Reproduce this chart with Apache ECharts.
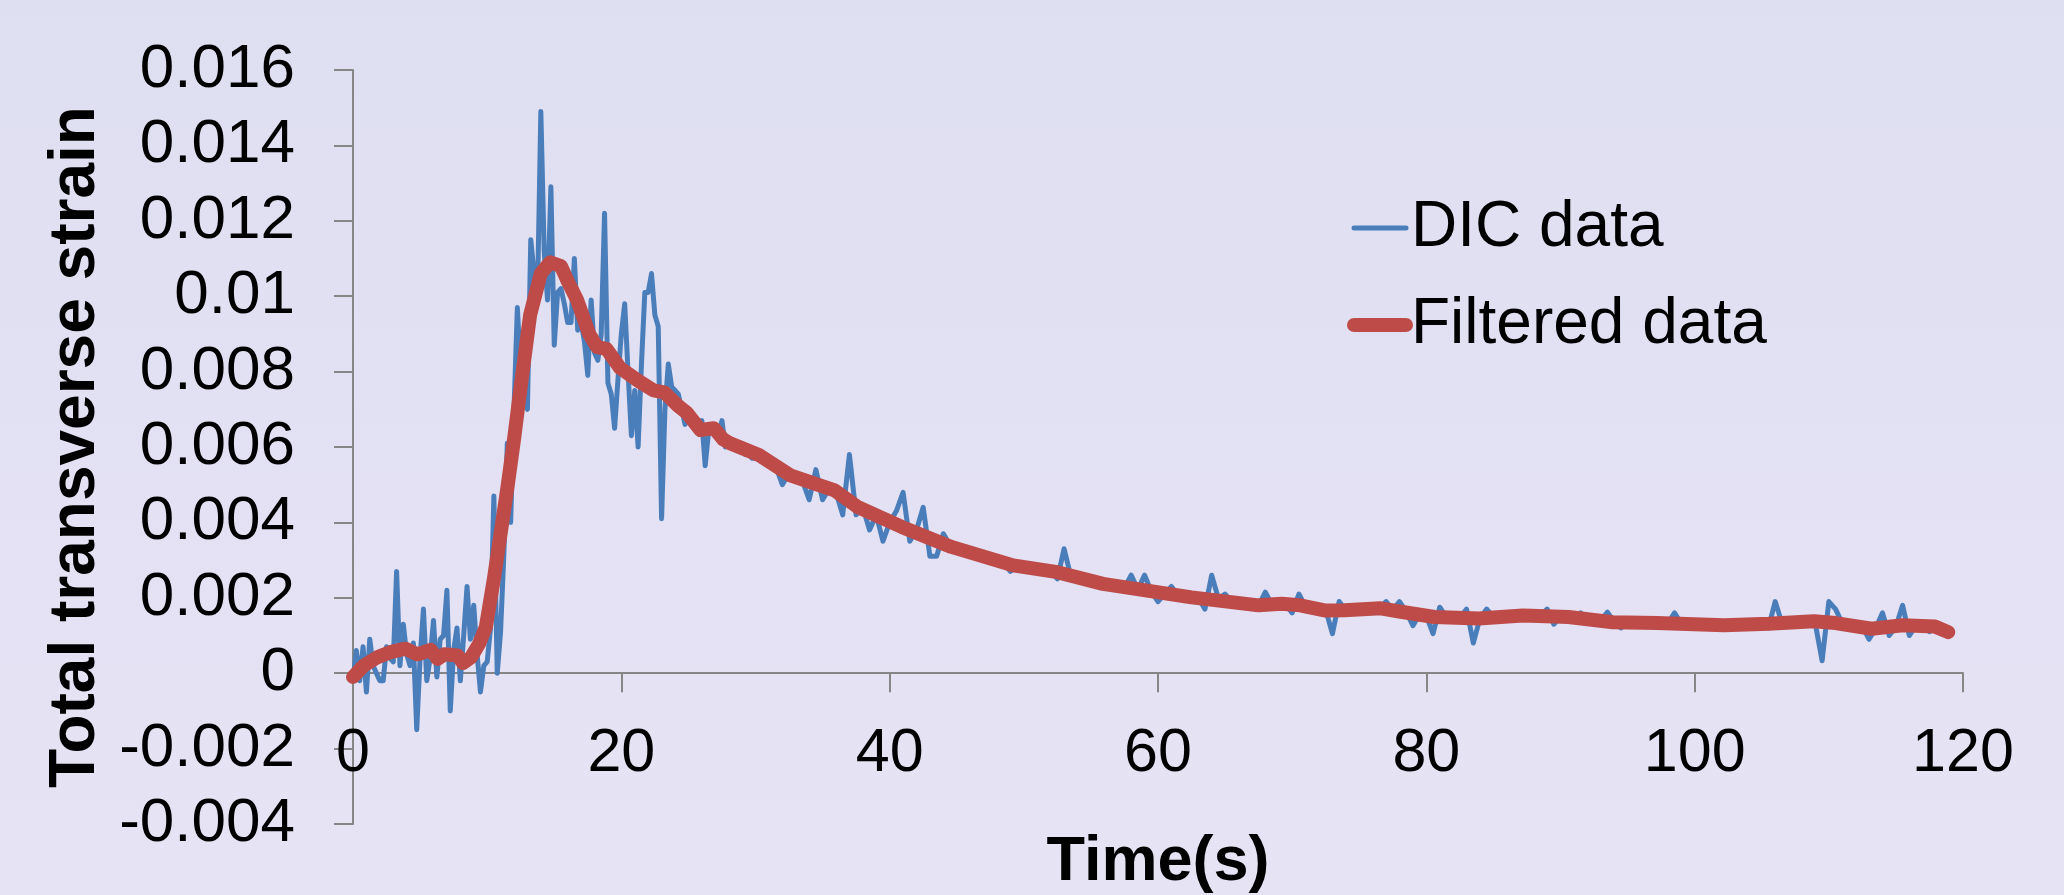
<!DOCTYPE html>
<html>
<head>
<meta charset="utf-8">
<script src="https://cdn.jsdelivr.net/npm/echarts@6/dist/echarts.min.js"></script>
<style>
  html, body { margin: 0; padding: 0; }
  #chart { width: 2064px; height: 895px; }
</style>
</head>
<body>
<div id="chart"></div>
<script>
// DIC samples, 0 .. 30 s every 0.25 s
var dicEarlyStart = 0, dicEarlyStep = 0.25;
var dicEarly = [
  -0.0002, 0.0006, -0.0002, 0.0007, -0.0005, 0.0009, 0.0002, 0.0000, -0.0002, -0.0002,
  0.0007, 0.0004, 0.0003, 0.0027, 0.0002, 0.0013, 0.0005, 0.0002, 0.0008, -0.0015,
  0.0004, 0.0017, -0.0002, 0.0004, 0.0014, -0.0001, 0.0009, 0.0010, 0.0022, -0.0010,
  0.0006, 0.0012, -0.0002, 0.0010, 0.0023, 0.0009, 0.0018, 0.0005, -0.0005, 0.0002,
  0.0003, 0.0012, 0.0047, 0.0000, 0.0011, 0.0032, 0.0061, 0.0040, 0.0070, 0.0097,
  0.0080, 0.0072, 0.0070, 0.0115, 0.0106, 0.0100, 0.0149, 0.0112, 0.0099, 0.0129,
  0.0087, 0.0101, 0.0102, 0.0098, 0.0093, 0.0093, 0.0110, 0.0091, 0.0093, 0.0088,
  0.0079, 0.0099, 0.0085, 0.0083, 0.0090, 0.0122, 0.0077, 0.0074, 0.0065, 0.0078,
  0.0090, 0.0098, 0.0080, 0.0063, 0.0075, 0.0060, 0.0082, 0.0101, 0.0101, 0.0106,
  0.0095, 0.0092, 0.0041, 0.0070, 0.0082, 0.0076, 0.0075, 0.0074, 0.0070, 0.0066,
  0.0069, 0.0067, 0.0066, 0.0064, 0.0067, 0.0055, 0.0064, 0.0065, 0.0064, 0.0063,
  0.0067, 0.0060, 0.0061, 0.0060, 0.0060, 0.0059, 0.0059, 0.0058, 0.0058, 0.0057,
  0.0057
];
// DIC samples, 30.5 .. 119 s every 0.5 s
var dicLateStart = 30.5, dicLateStep = 0.5;
var dicLate = [
  0.0057, 0.0056, 0.0055, 0.0050, 0.0053, 0.0052, 0.0051, 0.0046, 0.0054, 0.0046,
  0.0049, 0.0048, 0.0042, 0.0058, 0.0042, 0.0044, 0.0038, 0.0042, 0.0035, 0.0040,
  0.0043, 0.0048, 0.0035, 0.0038, 0.0044, 0.0031, 0.0031, 0.0037, 0.0034, 0.0033,
  0.00325, 0.0032, 0.00312, 0.0031, 0.00302, 0.00297, 0.00292, 0.0027, 0.00285, 0.00282,
  0.00279, 0.00276, 0.00273, 0.0027, 0.0025, 0.0033, 0.00257, 0.0025, 0.00247, 0.00243,
  0.0024, 0.00236, 0.00233, 0.0023, 0.00227, 0.0026, 0.00222, 0.0026, 0.00217, 0.0019,
  0.00211, 0.0023, 0.00206, 0.00203, 0.00201, 0.0020, 0.0017, 0.0026, 0.00198, 0.0021,
  0.00189, 0.00186, 0.00184, 0.00181, 0.0018, 0.00215, 0.00182, 0.00184, 0.00183, 0.0016,
  0.0021, 0.00176, 0.00173, 0.00169, 0.00168, 0.00105, 0.0019, 0.00167, 0.00168, 0.0017,
  0.00171, 0.00172, 0.00173, 0.0019, 0.00168, 0.0019, 0.00163, 0.00126, 0.00157, 0.00152,
  0.00105, 0.00175, 0.00148, 0.00147, 0.00147, 0.0017, 0.0008, 0.00146, 0.0017, 0.00148,
  0.0015, 0.00151, 0.00152, 0.00153, 0.00153, 0.00152, 0.00152, 0.0017, 0.0013, 0.00149,
  0.00148, 0.00147, 0.0016, 0.00144, 0.00142, 0.0014, 0.00162, 0.00136, 0.0012, 0.00134,
  0.00134, 0.00134, 0.00134, 0.00133, 0.00133, 0.00132, 0.0016, 0.00131, 0.0013, 0.00129,
  0.00129, 0.00128, 0.00128, 0.00127, 0.00127, 0.00128, 0.00129, 0.0013, 0.0013, 0.00131,
  0.0012, 0.0019, 0.00134, 0.00135, 0.00136, 0.00137, 0.00138, 0.0013, 0.00033, 0.0019,
  0.0017, 0.00133, 0.0013, 0.00127, 0.00124, 0.0009, 0.0012, 0.0016, 0.0010, 0.00124,
  0.0018, 0.0010, 0.00127, 0.00126, 0.0011, 0.00122, 0.00118, 0.0011
];
// filtered curve
var filteredTime = [
  0, 0.8, 1.8, 2.8, 3.9, 4.8, 5.8, 6.3, 6.8, 7.8,
  8.2, 8.8, 9.4, 9.9, 10.5, 11.0, 11.5, 12.0, 12.5, 13.2,
  14.0, 14.7, 15.5, 16.0, 16.7, 17.6, 18.2, 18.9, 19.9, 21.2,
  22.4, 23.2, 24.2, 24.9, 25.9, 26.9, 27.6, 28.1, 30.3, 32.6,
  35.9, 37.6, 40.9, 44.6, 49.2, 52.5, 55.9, 59.2, 62.5, 67.5,
  69.2, 70.6, 72.5, 73.9, 76.6, 78.1, 80.6, 83.9, 87.2, 90.6,
  93.9, 97.2, 102.2, 105.5, 108.9, 110.5, 113.2, 115.5, 117.9, 118.9
];
var filteredStrain = [
  -0.0001, 0.0002, 0.00042, 0.00056, 0.00065, 0.0005, 0.00062, 0.00038, 0.0005, 0.00047,
  0.00027, 0.00042, 0.00078, 0.00122, 0.0025, 0.0037, 0.0049, 0.0062, 0.0076, 0.0095,
  0.0106, 0.0109, 0.0108, 0.0104, 0.0099, 0.0090, 0.00865, 0.0086, 0.0081, 0.00777,
  0.0075, 0.00745, 0.0071, 0.0069, 0.00645, 0.0065, 0.0062, 0.0061, 0.00578, 0.00525,
  0.00485, 0.00441, 0.00388, 0.00335, 0.00286, 0.00268, 0.00237, 0.00219, 0.00201, 0.0018,
  0.00184, 0.0018, 0.00166, 0.00167, 0.00172, 0.00163, 0.00149, 0.00145, 0.00153, 0.00149,
  0.00135, 0.00133, 0.00127, 0.00131, 0.00138, 0.00133, 0.00118, 0.00127, 0.00124, 0.00109
];
var seriesNames = ['DIC data', 'Filtered data'];
var xTitle = 'Time(s)';
var yTitle = 'Total transverse strain';

var dicData = dicEarly.map(function (v, i) { return [dicEarlyStart + i * dicEarlyStep, v]; })
  .concat(dicLate.map(function (v, i) { return [dicLateStart + i * dicLateStep, v]; }));
var filteredData = filteredTime.map(function (t, i) { return [t, filteredStrain[i]]; });

var font = '"Liberation Sans", Arial, sans-serif';
var axisGrey = '#868686';
var blue = '#4a7ebb', red = '#be4b48';

var gridTop = 70, gridBottom = 71, yMin = -0.004, yMax = 0.016;
// lift the x axis (line, ticks, labels, name) from the grid bottom up to y = 0
var plotH = 895 - gridTop - gridBottom;
var zeroLift = plotH * (0 - yMin) / (yMax - yMin);

var myChart = echarts.init(document.getElementById('chart'));
var option = {
  animation: false,
  backgroundColor: {
    type: 'linear', x: 0, y: 0, x2: 0, y2: 1,
    colorStops: [{ offset: 0, color: '#dfdff2' }, { offset: 1, color: '#e6e3f4' }]
  },
  grid: { left: 353, right: 101, top: gridTop, bottom: gridBottom, outerBoundsMode: 'none' },
  legend: {
    orient: 'vertical',
    left: 1347,
    top: 196,
    padding: 0,
    itemGap: 33,
    itemWidth: 52,
    itemHeight: 14,
    itemStyle: { opacity: 0 },
    textStyle: { fontFamily: font, fontSize: 64, color: '#000', lineHeight: 64 },
    data: [
      { name: seriesNames[0], lineStyle: { width: 5, cap: 'round' } },
      { name: seriesNames[1], lineStyle: { width: 14, cap: 'round' } }
    ]
  },
  xAxis: {
    type: 'value',
    min: 0, max: 120, interval: 20,
    offset: -zeroLift,
    name: xTitle,
    nameLocation: 'middle',
    nameGap: 158,
    nameTextStyle: { fontFamily: font, fontSize: 63, fontWeight: 'bold', color: '#000' },
    axisLine: { onZero: false, lineStyle: { color: axisGrey, width: 2 } },
    axisTick: { length: 19, lineStyle: { color: axisGrey, width: 2 } },
    axisLabel: { fontFamily: font, fontSize: 61, color: '#000', margin: 50 },
    splitLine: { show: false }
  },
  yAxis: {
    type: 'value',
    min: yMin, max: yMax, interval: 0.002,
    name: yTitle,
    nameLocation: 'middle',
    nameRotate: 90,
    nameGap: 240,
    nameTextStyle: { fontFamily: font, fontSize: 64, fontWeight: 'bold', color: '#000' },
    axisLine: { show: true, lineStyle: { color: axisGrey, width: 2 } },
    axisTick: { show: true, length: 19, lineStyle: { color: axisGrey, width: 2 } },
    axisLabel: {
      fontFamily: font, fontSize: 62, color: '#000', margin: 58,
      formatter: function (v) { return String(+v.toFixed(4)); }
    },
    splitLine: { show: false }
  },
  series: [
    {
      name: seriesNames[0],
      type: 'line',
      symbol: 'none',
      data: dicData,
      lineStyle: { color: blue, width: 5, join: 'round', cap: 'round' },
      itemStyle: { color: blue }
    },
    {
      name: seriesNames[1],
      type: 'line',
      symbol: 'none',
      data: filteredData,
      lineStyle: { color: red, width: 14, join: 'round', cap: 'round' },
      itemStyle: { color: red }
    }
  ]
};
myChart.setOption(option, true);
</script>
</body>
</html>
